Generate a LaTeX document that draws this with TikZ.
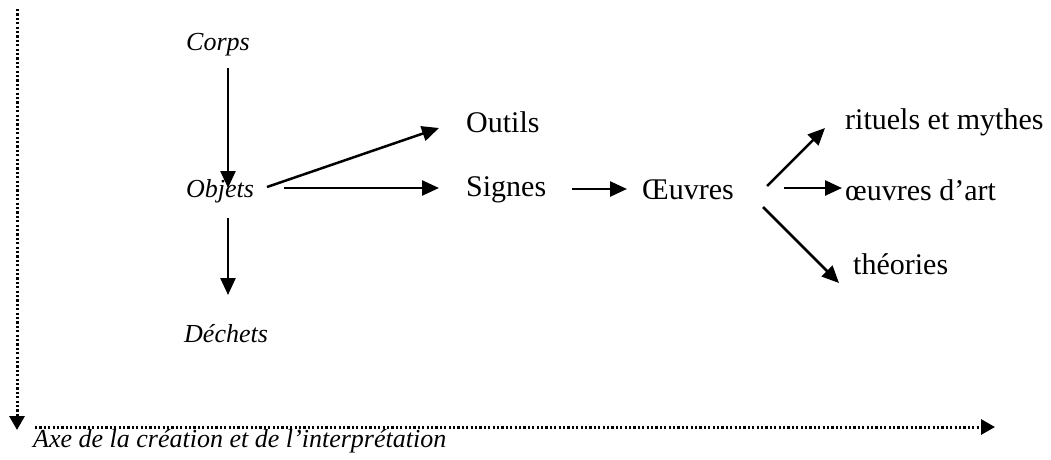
\documentclass[tikz,border=0pt]{standalone}
\usepackage{fontspec}
\setmainfont{Liberation Serif}
\usetikzlibrary{arrows.meta,calc}
\tikzset{
  lab/.style={anchor=west,inner sep=0pt,font=\fontsize{30}{34}\selectfont},
  itl/.style={anchor=west,inner sep=0pt,font=\fontsize{26}{30}\selectfont\itshape},
  arr/.style={line width=2.5pt,-{Triangle[length=17pt,width=15pt]}},
  dotarr/.style={line width=3pt,dash pattern=on 2.2pt off 2.2pt,-{Triangle[length=14pt,width=15pt]}}
}
\begin{document}
\begin{tikzpicture}[x=1pt,y=-1pt]
\useasboundingbox (0,0) rectangle (1051,459);
\node[itl] (corps) at (186,45) {Corps};
\node[itl] (objets) at (186,191) {Objets};
\node[itl] (dechets) at (184,334) {Déchets};
\node[lab] (outils) at (466,122) {Outils};
\node[lab] (signes) at (466,190) {Signes};
\node[lab] (oeuvres) at (642,190) {Œuvres};
\node[lab] (rituels) at (845,122) {rituels et mythes};
\node[lab] (art) at (845,190) {œuvres d’art};
\node[lab] (theories) at (853,264) {théories};
\node[itl] (axe) at (33,441) {Axe de la création et de l’interprétation};
\coordinate (vtop) at (17,9);
\coordinate (vbot) at (17,430);
\coordinate (hl) at (35,427);
\coordinate (hr) at (995,427);
\draw[arr] ($(corps.west)+(42,23)$) -- ($(objets.west)+(42,-3)$);
\draw[arr] ($(objets.west)+(42,27)$) -- ($(dechets.west)+(44,-39)$);
\draw[arr] ($(objets.west)+(81,-4)$) -- ($(outils.west)+(-27,6)$);
\draw[arr] ($(objets.west)+(98,-3)$) -- ($(signes.west)+(-27,-2)$);
\draw[arr] ($(signes.west)+(106,-1)$) -- ($(oeuvres.west)+(-15,-1)$);
\draw[arr] ($(oeuvres.west)+(125,-4)$) -- ($(rituels.west)+(-20,6)$);
\draw[arr] ($(oeuvres.west)+(142,-2)$) -- ($(art.west)+(-3,-2)$);
\draw[arr] ($(oeuvres.west)+(121,17)$) -- ($(theories.west)+(-14,19)$);
\draw[dotarr] (vtop) -- (vbot);
\draw[dotarr] (hl) -- (hr);
\end{tikzpicture}
\end{document}
